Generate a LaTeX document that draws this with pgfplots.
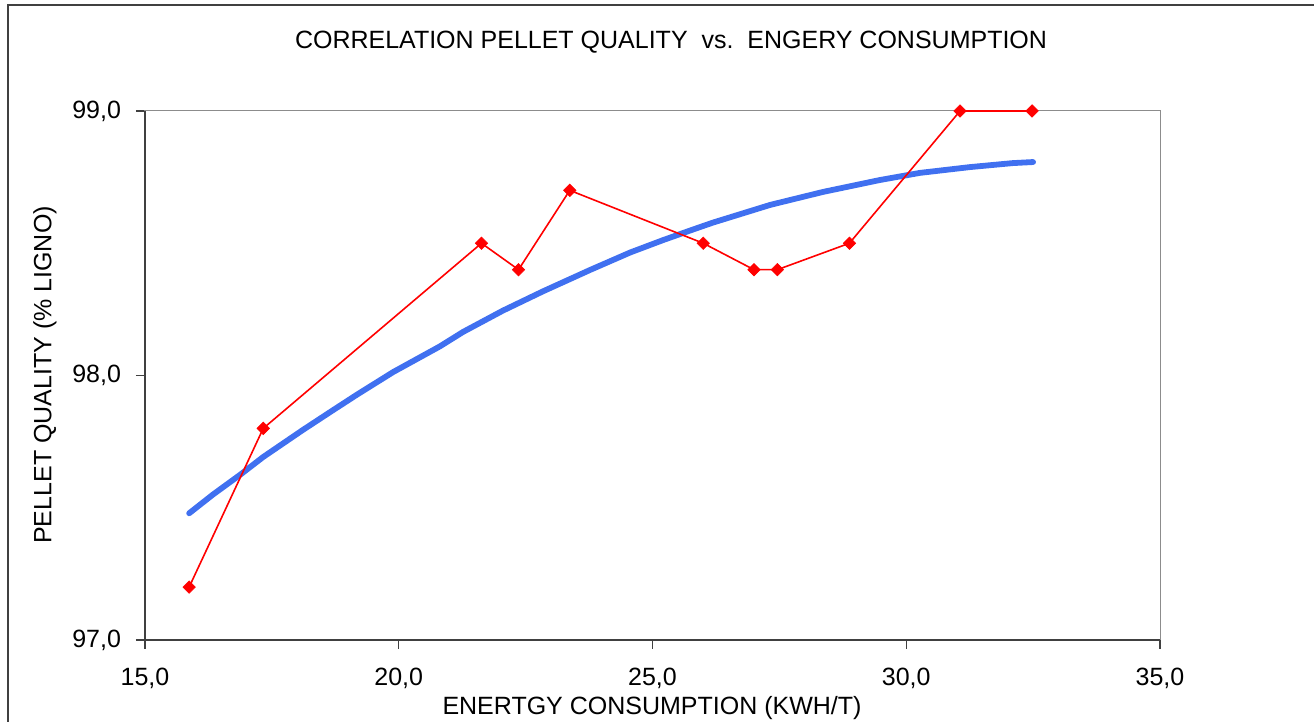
\documentclass[border=0pt]{standalone}
\usepackage{fontspec}
\setmainfont{Liberation Sans}
\usepackage{pgfplots}
\pgfplotsset{compat=1.18}
\definecolor{fitblue}{RGB}{64,112,240}
\definecolor{axdark}{RGB}{64,64,64}
\definecolor{axgray}{RGB}{140,140,140}
\begin{document}
\begin{tikzpicture}
\useasboundingbox (0,0) rectangle (657pt,361pt);
\draw[axdark, line width=0.6pt] (4pt,-10pt) -- (4pt,358.5pt) -- (680pt,358.5pt);
\begin{axis}[
  at={(72.5pt,41pt)}, anchor=south west,
  scale only axis, width=507.5pt, height=264.5pt,
  xmin=15, xmax=35, ymin=97, ymax=99,
  xtick={15,20,25,30,35}, ytick={97,98,99},
  xtick pos=bottom, ytick pos=left,
  tick align=outside, major tick length=4.5pt,
  tick style={axdark, line width=0.6pt},
  axis line style={axgray, line width=0.5pt},
  /pgf/number format/.cd, fixed, fixed zerofill, precision=1, use comma, assume math mode=true,
  /pgfplots/.cd,
  tick label style={font=\fontsize{12.5}{15}\selectfont, black},
  xticklabel style={yshift=-6pt},
  yticklabel style={xshift=-4pt},
  clip=false,
]
\draw[axdark, line width=0.9pt] (rel axis cs:0,1) -- (rel axis cs:0,0) -- (rel axis cs:1,0);
\addplot[fitblue, line width=2.9pt, line cap=round, line join=round, no marks] coordinates {
(15.87,97.479) (16.34,97.550) (16.87,97.624) (17.33,97.692) (18.11,97.794)
(18.65,97.862) (19.18,97.928) (19.89,98.013) (20.81,98.110) (21.27,98.165)
(22.05,98.245) (22.84,98.318) (23.77,98.399) (24.56,98.465) (25.21,98.512)
(25.74,98.548) (26.19,98.578) (27.32,98.645) (28.36,98.694) (29.48,98.739)
(30.27,98.766) (31.26,98.788) (32.10,98.803) (32.50,98.807)
};
\addplot[red, line width=0.8pt, mark=square*, mark size=2.2pt, mark options={fill=red, draw=red, line width=0.3pt, rotate=45}] coordinates {
(15.87,97.2) (17.33,97.8) (21.63,98.5) (22.36,98.4) (23.37,98.7) (26.0,98.5)
(27.0,98.4) (27.46,98.4) (28.88,98.5) (31.06,99.0) (32.48,99.0)
};
\end{axis}
\node[font=\fontsize{12.5}{15}\selectfont] at (335.5pt,340pt) {CORRELATION PELLET QUALITY\ \ vs.\ \ ENGERY CONSUMPTION};
\node[font=\fontsize{12.5}{15}\selectfont] at (326pt,7pt) {ENERTGY CONSUMPTION (KWH/T)};
\node[font=\fontsize{12.5}{15}\selectfont, rotate=90] at (22.5pt,173.5pt) {PELLET QUALITY (\% LIGNO)};
\end{tikzpicture}
\end{document}
